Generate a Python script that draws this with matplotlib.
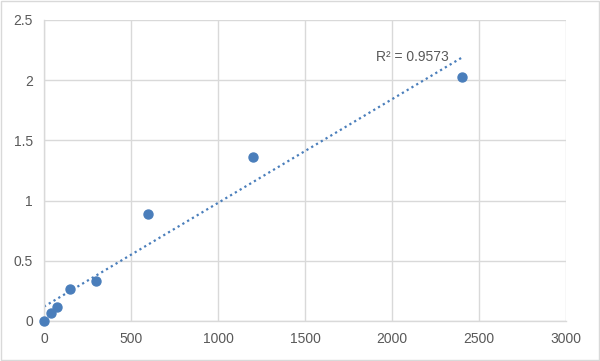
import numpy as np
import matplotlib.pyplot as plt
from matplotlib.patches import Rectangle

# datos
concentracion = [0, 37.5, 75, 150, 300, 600, 1200, 2400]
absorbancia = [0.0, 0.066, 0.116, 0.266, 0.332, 0.889, 1.362, 2.027]
xticks = [0, 500, 1000, 1500, 2000, 2500, 3000]
yticks = [0, 0.5, 1, 1.5, 2, 2.5]
etiqueta_r2 = "R² = 0.9573"

azul = "#4a7ebb"
gris_texto = "#595959"
gris_linea = "#d9d9d9"

plt.rcParams["font.family"] = ["Liberation Sans", "DejaVu Sans"]

fig = plt.figure(figsize=(6, 3.61), dpi=100)
ax = fig.add_axes([44 / 600, 40 / 361, 522 / 600, 301 / 361])

# linea de tendencia lineal
m, b = np.polyfit(concentracion, absorbancia, 1)
xs = np.array([0, max(concentracion)])
ax.plot(xs, m * xs + b, linestyle=(0, (1, 1.5)), color=azul, linewidth=1.6, zorder=2)

ax.scatter(concentracion, absorbancia, s=42, color=azul, zorder=3, clip_on=False)

ax.text(1910, 2.19, etiqueta_r2, ha="left", va="center", fontsize=10, color=gris_texto)

ax.set_xlim(0, 3000)
ax.set_ylim(0, 2.5)
ax.set_xticks(xticks)
ax.set_yticks(yticks)
ax.set_yticklabels(["0", "0.5", "1", "1.5", "2", "2.5"])
ax.grid(True, color=gris_linea, linewidth=1)
ax.set_axisbelow(True)
ax.tick_params(length=0, labelsize=10, labelcolor=gris_texto, pad=8)
for lado in ["top", "right"]:
    ax.spines[lado].set_visible(False)
for lado in ["left", "bottom"]:
    ax.spines[lado].set_color(gris_linea)
    ax.spines[lado].set_linewidth(1)

# marco del grafico
fig.patches.append(Rectangle((0.002, 0.003), 0.996, 0.994, transform=fig.transFigure,
                             fill=False, edgecolor=gris_linea, linewidth=1))

fig.savefig("out.png", dpi=100)
